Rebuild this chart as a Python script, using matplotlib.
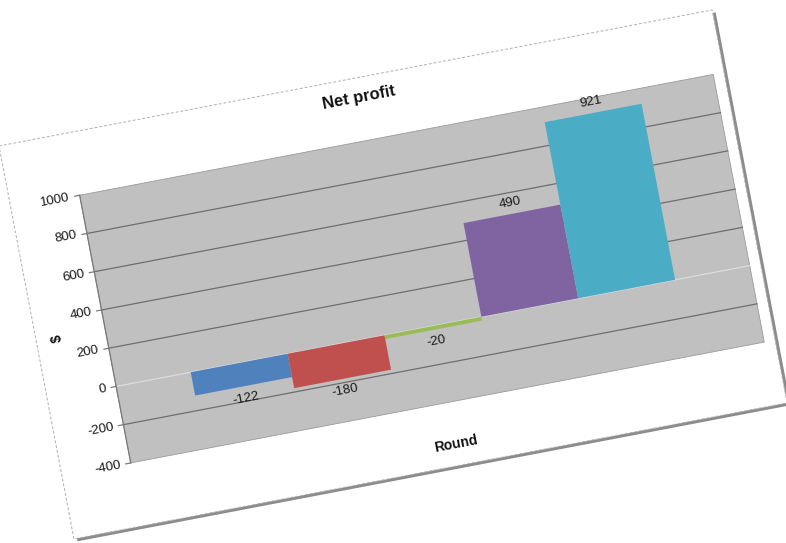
import numpy as np
import matplotlib
matplotlib.use("Agg")
import matplotlib.pyplot as plt
from matplotlib.transforms import Affine2D
from matplotlib.patches import Rectangle

# ---- data ----
series_labels = ["-122", "-180", "-20", "490", "921"]
values = [-122, -180, -20, 490, 921]
colors = ["#4F81BD", "#C0504D", "#9BBB59", "#8064A2", "#4BACC6"]
y_ticks = [-400, -200, 0, 200, 400, 600, 800, 1000]
title = "Net profit"
x_title = "Round"
y_title = "$"

plt.rcParams['font.family'] = ['Liberation Sans', 'DejaVu Sans']

W, H = 786, 543
fig = plt.figure(figsize=(W / 100, H / 100), dpi=100)
ax = fig.add_axes([0, 0, 1, 1])
ax.axis('off')

# rotation of the whole (photographed) chart
theta = 10.8
c, s = np.cos(np.radians(theta)), np.sin(np.radians(theta))
tl = (-1.0, 146.0)
local_aff = Affine2D(np.array([[c, s, tl[0]], [-s, c, tl[1]], [0, 0, 1]]))
local_tr = local_aff + ax.transData

# chart area (local px)
CW, CH = 726, 400
# plot area (local px)
PX0, PX1, PY0, PY1 = 70.0, 715.0, 63.5, 336.0
xmin, xmax = -1.27, 5.27
vmin, vmax = -400, 1000
sx = (PX1 - PX0) / (xmax - xmin)
sy = (PY1 - PY0) / (vmax - vmin)
data_local = Affine2D().translate(-xmin, -vmax).scale(sx, -sy).translate(PX0, PY0)
data_tr = data_local + local_tr

def off(dx, dy):
    return data_local + Affine2D().translate(dx, dy) + local_tr

# chart area with shadow
ax.add_patch(Rectangle((3, 3), CW, CH, transform=local_tr, fc="#8c8c8c", ec="none", zorder=0))
ax.add_patch(Rectangle((0, 0), CW, CH, transform=local_tr, fc="white", ec="#b0b0b0",
                       lw=0.7, ls=(0, (3, 2)), zorder=1))

# plot area
ax.add_patch(Rectangle((xmin, vmin), xmax - xmin, vmax - vmin, transform=data_tr,
                       fc="#C0C0C0", ec="#9a9a9a", lw=0.6, zorder=2))

# gridlines
for v in y_ticks:
    if v in (vmin, vmax):
        continue
    col = "#dcdcdc" if v == 0 else "#6e6e6e"
    ax.plot([xmin, xmax], [v, v], transform=data_tr, color=col, lw=0.9, zorder=2.5)

# bars
xpos = np.arange(len(values))
ax.bar(xpos, values, width=1.0, color=colors, transform=data_tr, zorder=3, linewidth=0)

# y axis line & ticks
ax.plot([xmin, xmin], [vmin, vmax], transform=data_tr, color="#7a7a7a", lw=0.9, zorder=4)
for v in y_ticks:
    ax.plot([xmin - 5 / sx, xmin], [v, v], transform=data_tr, color="#7a7a7a", lw=0.9, zorder=4)
    ax.text(xmin, v, str(v), transform=off(-10, 0), ha="right", va="center",
            rotation=theta, rotation_mode="anchor", fontsize=9.6, color="#1a1a1a", zorder=5)

# data labels
for x, v, lab in zip(xpos, values, series_labels):
    dy = 12 if v < 0 else -11
    ax.text(x, v, lab, transform=off(0, dy), ha="center", va="center",
            rotation=theta, rotation_mode="anchor", fontsize=9.6, color="#1a1a1a", zorder=5)

# titles
ax.text(363, 20, title, transform=local_tr, ha="center", va="center", rotation=theta,
        rotation_mode="anchor", fontsize=12, fontweight="bold", color="#111111", zorder=5)
ax.text(393, 378, x_title, transform=local_tr, ha="center", va="center", rotation=theta,
        rotation_mode="anchor", fontsize=10, fontweight="bold", color="#111111", zorder=5)
ax.text(21, 200, y_title, transform=local_tr, ha="center", va="center", rotation=90 + theta,
        rotation_mode="anchor", fontsize=10, fontweight="bold", color="#111111", zorder=5)

ax.set_xlim(0, W)
ax.set_ylim(H, 0)
fig.savefig("out.png", dpi=100, facecolor="white")
